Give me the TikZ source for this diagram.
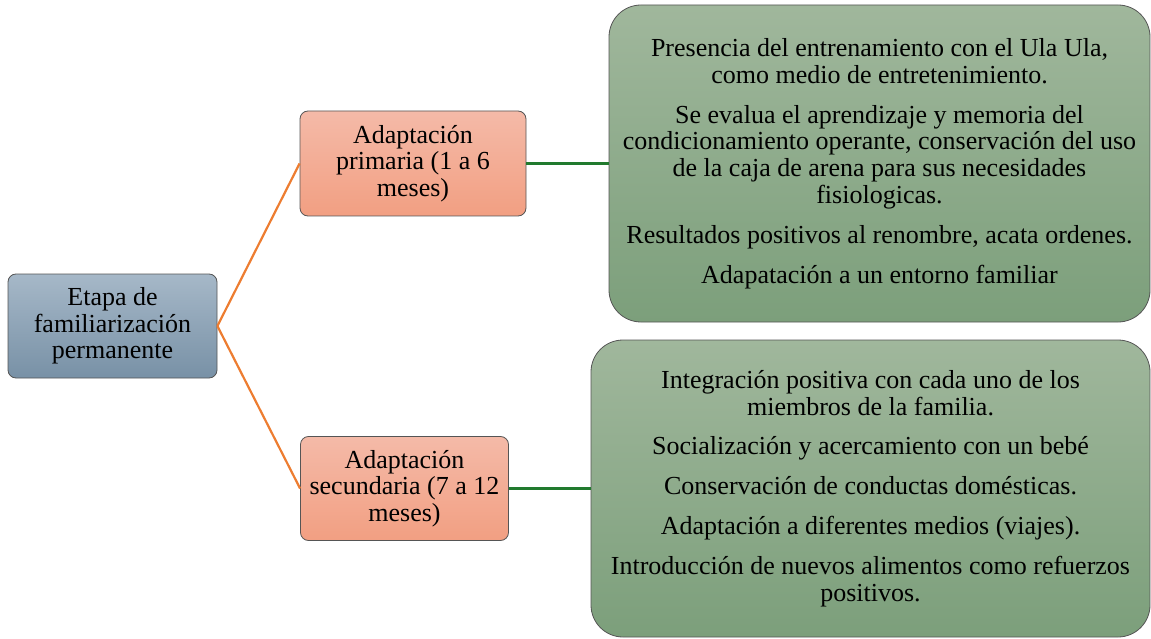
\documentclass[tikz,border=0pt]{standalone}
\usepackage{fontspec}
\setmainfont{Liberation Serif}
\definecolor{slatetop}{HTML}{A6B8C8}
\definecolor{slatebot}{HTML}{7891A6}
\definecolor{salmontop}{HTML}{F4BAA8}
\definecolor{salmonbot}{HTML}{F29F82}
\definecolor{sagetop}{HTML}{A0B79C}
\definecolor{sagebot}{HTML}{7C9F7B}
\definecolor{linkorange}{HTML}{ED7D31}
\definecolor{linkgreen}{HTML}{217A2E}
\definecolor{edgegray}{HTML}{555555}

\begin{document}
\begin{tikzpicture}[x=1pt,y=-1pt,
    stagebox/.style={draw=edgegray, line width=0.8pt, rounded corners=8pt, top color=slatetop, bottom color=slatebot,
      align=center, font=\fontsize{26}{26.5}\selectfont, inner sep=0pt},
    periodbox/.style={draw=edgegray, line width=0.8pt, rounded corners=8pt, top color=salmontop, bottom color=salmonbot,
      align=center, font=\fontsize{26}{26.5}\selectfont, inner sep=0pt},
    detailbox/.style={draw=edgegray, line width=0.8pt, rounded corners=32pt, top color=sagetop, bottom color=sagebot,
      align=center, font=\fontsize{26}{26.8}\selectfont, inner sep=0pt},
    orangelink/.style={draw=linkorange, line width=2.2pt},
    greenlink/.style={draw=linkgreen, line width=2.4pt}]

      \useasboundingbox (0,0) rectangle (1151,639);

      % left stage
      \node[stagebox, minimum width=209pt, minimum height=104pt] (etapa) at (112.5,326) {Etapa de\\familiarización\\permanente};

      % periods
      \node[periodbox, minimum width=226pt, minimum height=105pt] (primaria) at (413,163.5) {Adaptación\\primaria (1 a 6\\meses)};
      \node[periodbox, minimum width=208pt, minimum height=104pt] (secundaria) at (404.5,488.5) {Adaptación\\secundaria (7 a 12\\meses)};

      % details
      \node[detailbox, minimum width=541pt, minimum height=317pt] (detalle1) at (879.5,163.5) {Presencia del entrenamiento con el Ula Ula,\\como medio de entretenimiento.\\[13pt]
        Se evalua el aprendizaje y memoria del\\condicionamiento operante, conservación del uso\\de la caja de arena para sus necesidades\\fisiologicas.\\[13pt]
        Resultados positivos al renombre, acata ordenes.\\[13pt]
        Adapatación a un entorno familiar};
      \node[detailbox, minimum width=559pt, minimum height=297pt] (detalle2) at (870.5,488.5) {Integración positiva con cada uno de los\\miembros de la familia.\\[13pt]
        Socialización y acercamiento con un bebé\\[13pt]
        Conservación de conductas domésticas.\\[13pt]
        Adaptación a diferentes medios (viajes).\\[13pt]
        Introducción de nuevos alimentos como refuerzos\\positivos.};

      \draw[orangelink] (etapa.east) -- (primaria.west);
      \draw[orangelink] (etapa.east) -- (secundaria.west);
      \draw[greenlink] (primaria.east) -- (detalle1.west);
      \draw[greenlink] (secundaria.east) -- (detalle2.west);

\end{tikzpicture}
\end{document}
